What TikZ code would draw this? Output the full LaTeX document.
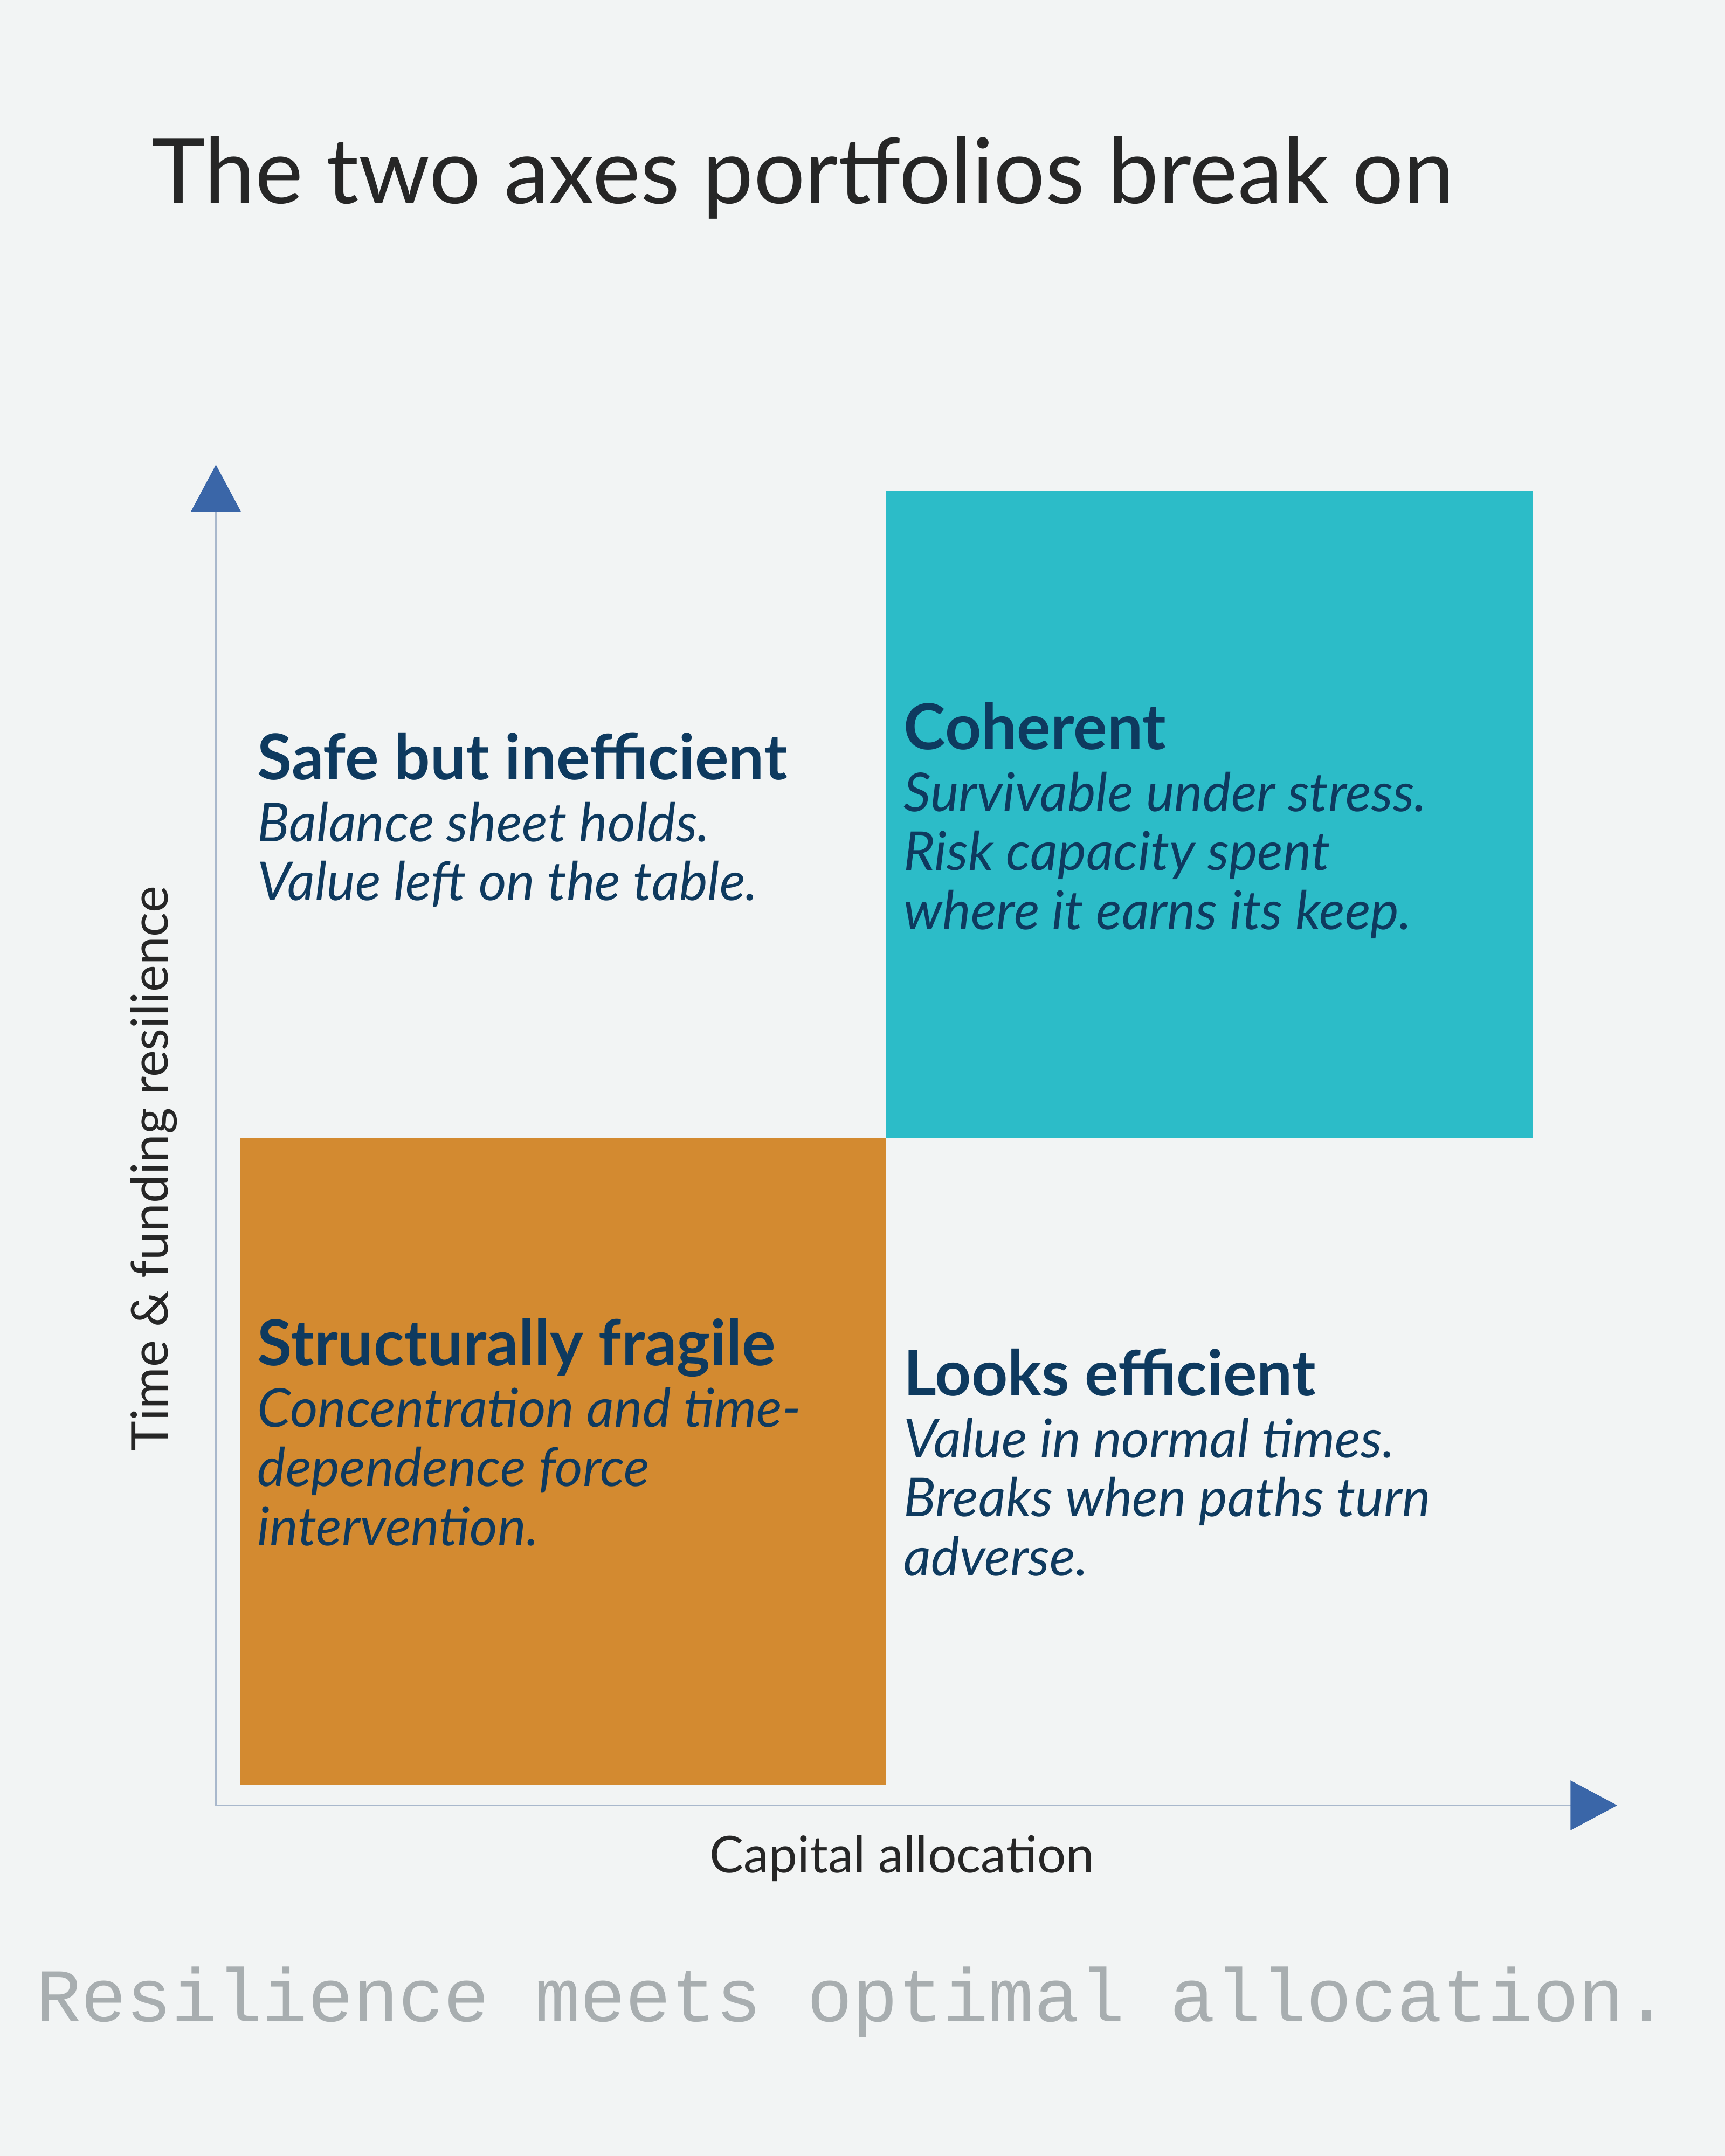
\documentclass[tikz,border=0pt]{standalone}
\usepackage{fontspec}
\setmainfont{Lato}
\setmonofont{Liberation Mono}
\usetikzlibrary{arrows.meta,positioning}
\definecolor{bgcol}{HTML}{F2F4F4}
\definecolor{navy}{HTML}{0E3A5F}
\definecolor{axisblue}{HTML}{3A66A8}
\definecolor{axisline}{HTML}{A9B8CC}
\definecolor{fragile}{HTML}{D38A30}
\definecolor{coherent}{HTML}{2CBCC8}
\definecolor{footgray}{HTML}{A8AEB0}

\begin{document}
\begin{tikzpicture}[x=1pt,y=1pt,
	head/.style={anchor=base west,inner sep=0pt,text=navy,font=\fontsize{46}{50}\selectfont\bfseries},
	body/.style={anchor=base west,inner sep=0pt,text=navy,font=\fontsize{39}{43}\selectfont\itshape},
	axislabel/.style={inner sep=0pt,text=black!85,font=\fontsize{37}{40}\selectfont},
	axis/.style={draw=axisline,line width=1.2pt,-{Triangle[length=34pt,width=36pt,color=axisblue]}}]
	\fill[bgcol] (0,0) rectangle (1254.4,-1568);
	\useasboundingbox (0,0) rectangle (1254.4,-1568);
	% title
	\node[anchor=base west,inner sep=0pt,text=black!85,font=\fontsize{66}{70}\selectfont] (title) at (110,-148) {The two axes portfolios break on};
	% quadrants
	\fill[fragile] (175,-828) rectangle (644,-1298);
	\fill[coherent] (644,-357) rectangle (1115,-828);
	% axes
	\coordinate (origin) at (157,-1313);
	\coordinate (ytip) at (157,-338);
	\coordinate (xtip) at (1176,-1313);
	\draw[axis] (origin) -- (ytip);
	\draw[axis] (origin) -- (xtip);
	\node[axislabel,rotate=90] (ylabel) at (112,-850) {Time \& funding resilience};
	\node[axislabel,anchor=base] (xlabel) at (656,-1362) {Capital allocation};
	% top left
	\node[head] (safe) at (187,-567) {Safe but inefficient};
	\node[body] (safeA) at (187,-612) {Balance sheet holds.};
	\node[body] (safeB) at (187,-655) {Value left on the table.};
	% top right
	\node[head] (coh) at (657,-545) {Coherent};
	\node[body] (cohA) at (657,-590) {Survivable under stress.};
	\node[body] (cohB) at (657,-633) {Risk capacity spent};
	\node[body] (cohC) at (657,-676) {where it earns its keep.};
	% bottom left
	\node[head] (frag) at (187,-993) {Structurally fragile};
	\node[body] (fragA) at (187,-1038) {Concentration and time-};
	\node[body] (fragB) at (187,-1081) {dependence force};
	\node[body] (fragC) at (187,-1124) {intervention.};
	% bottom right
	\node[head] (looks) at (657,-1015) {Looks efficient};
	\node[body] (looksA) at (657,-1060) {Value in normal times.};
	\node[body] (looksB) at (657,-1103) {Breaks when paths turn};
	\node[body] (looksC) at (657,-1146) {adverse.};
	% footer
	\node[anchor=base,inner sep=0pt,text=footgray,font=\fontsize{55}{60}\selectfont\ttfamily] (foot) at (620,-1470) {Resilience meets optimal allocation.};
\end{tikzpicture}
\end{document}
